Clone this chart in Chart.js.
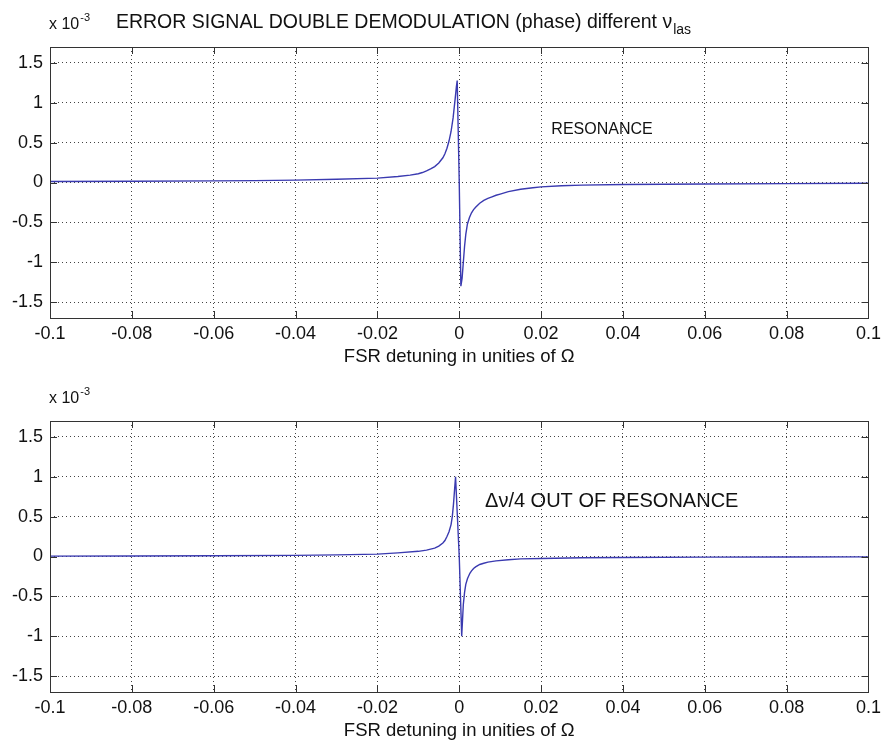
<!DOCTYPE html>
<html>
<head>
<meta charset="utf-8">
<title>Error signal double demodulation</title>
<script src="https://cdn.jsdelivr.net/npm/chart.js@4.4.0/dist/chart.umd.min.js"></script>
<style>
    html, body { margin: 0; padding: 0; background: #fff; }
    .panel { width: 886px; height: 373px; }
    canvas { display: block; }
</style>
</head>
<body>
<div class="panel"><canvas id="topChart" width="886" height="373"></canvas></div>
<div class="panel" style="margin-top:1px"><canvas id="bottomChart" width="886" height="373"></canvas></div>
<script>
// Axis ticks (x in unities of Omega, y in units of 10^-3)
const xTicks = [-0.1, -0.08, -0.06, -0.04, -0.02, 0, 0.02, 0.04, 0.06, 0.08, 0.1];
const yTicks = [-1.5, -1, -0.5, 0, 0.5, 1, 1.5];

// Top panel: resonance
const resonanceX = [-0.1, -0.08, -0.06, -0.05, -0.04, -0.03, -0.02, -0.015, -0.012, -0.01, -0.009, -0.008,
    -0.007, -0.006, -0.005, -0.004, -0.0035, -0.003, -0.0025, -0.002, -0.0015, -0.001, -0.0007, -0.0005,
    0, 0.0004, 0.0007, 0.001, 0.0013, 0.0016, 0.002, 0.0025, 0.003, 0.0035, 0.004, 0.005, 0.006, 0.007,
    0.008, 0.009, 0.01, 0.012, 0.015, 0.018, 0.02, 0.025, 0.03, 0.04, 0.06, 0.08, 0.1];
const resonanceY = [0.012, 0.015, 0.02, 0.024, 0.03, 0.04, 0.055, 0.075, 0.092, 0.11, 0.125, 0.145,
    0.17, 0.2, 0.245, 0.31, 0.36, 0.43, 0.52, 0.64, 0.81, 1.05, 1.2, 1.28,
    0, -1.3, -1.2, -1.0, -0.8, -0.65, -0.52, -0.44, -0.38, -0.34, -0.31, -0.26, -0.225, -0.2,
    -0.18, -0.16, -0.145, -0.115, -0.085, -0.065, -0.055, -0.04, -0.033, -0.025, -0.018, -0.014, -0.01];

// Bottom panel: delta nu / 4 out of resonance
const offResonanceX = [-0.1, -0.08, -0.06, -0.04, -0.03, -0.02, -0.015, -0.01, -0.008, -0.006, -0.005,
    -0.004, -0.0035, -0.003, -0.0025, -0.002, -0.0017, -0.0014, -0.0012, -0.0009, 0, 0.0006, 0.0008,
    0.001, 0.0013, 0.0016, 0.002, 0.0026, 0.003, 0.0035, 0.004, 0.005, 0.006, 0.007, 0.009, 0.012,
    0.015, 0.02, 0.03, 0.04, 0.06, 0.08, 0.1];
const offResonanceY = [0.005, 0.007, 0.01, 0.014, 0.02, 0.03, 0.045, 0.065, 0.08, 0.105, 0.13,
    0.17, 0.2, 0.25, 0.31, 0.4, 0.5, 0.66, 0.8, 1.0, 0, -1.0, -0.8,
    -0.6, -0.45, -0.35, -0.28, -0.21, -0.18, -0.15, -0.13, -0.1, -0.085, -0.07, -0.055, -0.04,
    -0.03, -0.025, -0.016, -0.012, -0.008, -0.006, -0.005];

const FONT = '"Liberation Sans", Arial, sans-serif';
const INK = '#111';

// draws text followed by a sub/superscript
function drawScripted(ctx, x, y, main, mainSize, script, scriptSize, shift, centered) {
    ctx.font = mainSize + 'px ' + FONT;
    const w1 = ctx.measureText(main).width;
    ctx.font = scriptSize + 'px ' + FONT;
    const w2 = ctx.measureText(script).width;
    let left = centered ? x - (w1 + w2) / 2 : x;
    ctx.textAlign = 'left';
    ctx.textBaseline = 'alphabetic';
    ctx.fillStyle = INK;
    ctx.font = mainSize + 'px ' + FONT;
    ctx.fillText(main, left, y);
    ctx.font = scriptSize + 'px ' + FONT;
    ctx.fillText(script, left + w1 + 1, y + shift);
}

// MATLAB-like frame: full box, inward ticks, exponent label, title, annotation
const matlabFrame = {
    id: 'matlabFrame',
    afterDraw(chart, args, opts) {
        const ctx = chart.ctx;
        const area = chart.chartArea;
        const xs = chart.scales.x;
        const ys = chart.scales.y;
        const tick = 7;
        ctx.save();
        ctx.strokeStyle = '#333';
        ctx.lineWidth = 1;
        ctx.beginPath();
        xTicks.forEach(v => {
            const px = Math.round(xs.getPixelForValue(v)) + 0.5;
            ctx.moveTo(px, area.bottom); ctx.lineTo(px, area.bottom - tick);
            ctx.moveTo(px, area.top); ctx.lineTo(px, area.top + tick);
        });
        yTicks.forEach(v => {
            const py = Math.round(ys.getPixelForValue(v)) + 0.5;
            ctx.moveTo(area.left, py); ctx.lineTo(area.left + tick, py);
            ctx.moveTo(area.right, py); ctx.lineTo(area.right - tick, py);
        });
        ctx.stroke();
        ctx.strokeRect(Math.round(area.left) + 0.5, Math.round(area.top) + 0.5,
            Math.round(area.right - area.left), Math.round(area.bottom - area.top));

        // exponent label
        drawScripted(ctx, area.left - 1, area.top - 18, 'x 10', 16, '-3', 11, -8, false);

        if (opts.title) {
            drawScripted(ctx, 403, 28, opts.title, 19.5, 'las', 14, 6, true);
        }
        if (opts.note) {
            ctx.font = opts.noteSize + 'px ' + FONT;
            ctx.fillStyle = INK;
            ctx.textAlign = 'left';
            ctx.textBaseline = 'middle';
            ctx.fillText(opts.note, xs.getPixelForValue(opts.noteX), ys.getPixelForValue(opts.noteY));
        }
        ctx.restore();
    }
};

function makeChart(canvasId, xs, ys, frameOpts) {
    const points = xs.map((x, i) => ({ x: x, y: ys[i] }));
    return new Chart(document.getElementById(canvasId), {
        type: 'line',
        data: {
            datasets: [{
                data: points,
                borderColor: '#3a3ab0',
                borderWidth: 1.4,
                pointRadius: 0,
                tension: 0,
                fill: false
            }]
        },
        options: {
            responsive: false,
            animation: false,
            layout: { padding: { top: 47, right: 16, bottom: 0, left: 0 } },
            plugins: {
                legend: { display: false },
                tooltip: { enabled: false },
                matlabFrame: frameOpts
            },
            scales: {
                x: {
                    type: 'linear',
                    min: -0.1,
                    max: 0.1,
                    afterBuildTicks: s => { s.ticks = xTicks.map(v => ({ value: v })); },
                    afterFit: s => { s.height = 55; },
                    ticks: {
                        color: INK,
                        padding: 5,
                        maxRotation: 0,
                        font: { family: FONT, size: 18 },
                        callback: v => String(v)
                    },
                    grid: { color: '#444', drawTicks: false },
                    border: { display: false, dash: [1, 3] },
                    title: {
                        display: true,
                        text: 'FSR detuning in unities of Ω',
                        color: INK,
                        font: { family: FONT, size: 18.5 },
                        padding: { top: 0, bottom: 5 }
                    }
                },
                y: {
                    type: 'linear',
                    min: -1.7,
                    max: 1.7,
                    afterBuildTicks: s => { s.ticks = yTicks.map(v => ({ value: v })); },
                    afterFit: s => { s.width = 50; },
                    ticks: {
                        color: INK,
                        padding: 7,
                        font: { family: FONT, size: 18 },
                        callback: v => String(v)
                    },
                    grid: { color: '#444', drawTicks: false },
                    border: { display: false, dash: [1, 3] }
                }
            }
        },
        plugins: [matlabFrame]
    });
}

makeChart('topChart', resonanceX, resonanceY, {
    title: 'ERROR SIGNAL DOUBLE DEMODULATION (phase) different ν',
    note: 'RESONANCE', noteSize: 16, noteX: 0.0225, noteY: 0.67
});
makeChart('bottomChart', offResonanceX, offResonanceY, {
    note: 'Δν/4 OUT OF RESONANCE', noteSize: 20, noteX: 0.0063, noteY: 0.69
});
</script>
</body>
</html>
